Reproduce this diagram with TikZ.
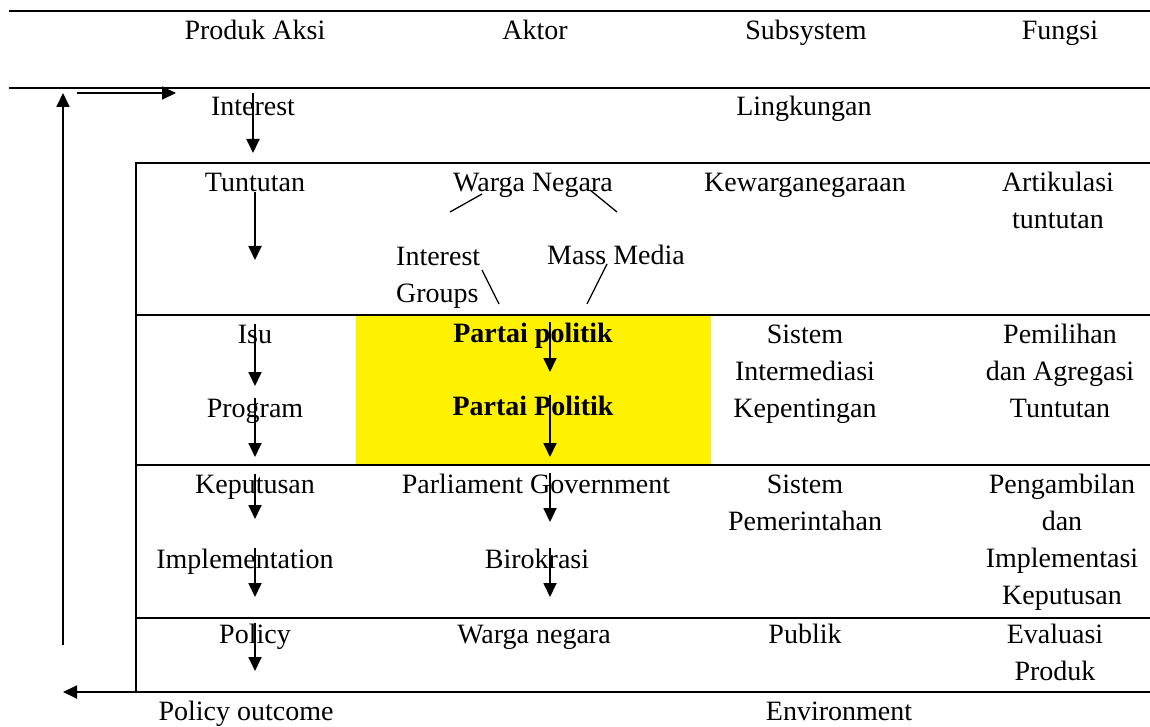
\documentclass[tikz,border=0pt]{standalone}
\usepackage{fontspec}
\setmainfont{Liberation Serif}
\usetikzlibrary{arrows.meta}
\tikzset{
  txt/.style={font=\fontsize{28}{37}\selectfont,inner sep=0pt,anchor=base,align=center},
  rule/.style={line width=2.6pt},
  flow/.style={line width=1.8pt,-{Triangle[length=14pt,width=13pt]}},
  tie/.style={line width=1.3pt}
}
\begin{document}
\begin{tikzpicture}[x=1pt,y=-1pt]
\useasboundingbox (0,0) rectangle (1150,727);
\fill[yellow] (356,316) rectangle (711,464);
% column heads
\node[txt] (prod) at (255,40) {Produk Aksi};
\node[txt] (aktor) at (535,40) {Aktor};
\node[txt] (sub) at (806,40) {Subsystem};
\node[txt] (fungsi) at (1060,40) {Fungsi};
% environment row (multi-line nodes sit on their last line)
\node[txt] (interest) at (253,116) {Interest};
\node[txt] (lingk) at (804,116) {Lingkungan};
% row 1
\node[txt] (tuntutan) at (255,192) {Tuntutan};
\node[txt] (warga) at (533,192) {Warga Negara};
\node[txt,anchor=base west,align=left] (igroups) at (396,302) {Interest\\Groups};
\node[txt] (media) at (616,265) {Mass Media};
\node[txt] (kewarga) at (805,192) {Kewarganegaraan};
\node[txt] (artik) at (1058,229) {Artikulasi\\tuntutan};
% row 2
\node[txt] (isu) at (255,343) {Isu};
\node[txt] (program) at (255,417) {Program};
\node[txt,font=\fontsize{28}{37}\selectfont\bfseries] (partai1) at (533,342) {Partai politik};
\node[txt,font=\fontsize{28}{37}\selectfont\bfseries] (partai2) at (533,415) {Partai Politik};
\node[txt] (sisint) at (805,417) {Sistem\\Intermediasi\\Kepentingan};
\node[txt] (pemilihan) at (1060,417) {Pemilihan\\dan Agregasi\\Tuntutan};
% row 3
\node[txt] (keputusan) at (255,493) {Keputusan};
\node[txt] (impl) at (245,568) {Implementation};
\node[txt] (parlgov) at (536,493) {Parliament Government};
\node[txt] (birok) at (537,568) {Birokrasi};
\node[txt] (sispem) at (805,530) {Sistem\\Pemerintahan};
\node[txt] (pengamb) at (1062,604) {Pengambilan\\dan\\Implementasi\\Keputusan};
% row 4
\node[txt] (policy) at (255,643) {Policy};
\node[txt] (wargan) at (534,643) {Warga negara};
\node[txt] (publik) at (805,643) {Publik};
\node[txt] (evaluasi) at (1055,680) {Evaluasi\\Produk};
% below
\node[txt] (outcome) at (246,720) {Policy outcome};
\node[txt] (env) at (839,720) {Environment};
% frame
\coordinate (tl) at (9,11);
\coordinate (ml) at (9,88);
\coordinate (bx) at (136,163);
\coordinate (bb) at (136,692);
\draw[rule] (tl) -- ++(1141,0);
\draw[rule] (ml) -- ++(1141,0);
\draw[rule] (bb) -- (bx) -- ++(1014,0);
\draw[rule] (136,315) -- ++(1014,0);
\draw[rule] (136,465) -- ++(1014,0);
\draw[rule] (136,618) -- ++(1014,0);
\draw[rule] (bb) -- ++(1014,0);
% feedback loop
\coordinate (loopa) at (148,692);
\coordinate (loopb) at (63,692);
\coordinate (loopc) at (63,645);
\coordinate (loopd) at (63,93);
\coordinate (loope) at (77,93);
\coordinate (loopf) at (176,93);
\draw[flow] (loopa) -- (loopb);
\draw[flow] (loopc) -- (loopd);
\draw[flow] (loope) -- (loopf);
% flows
\coordinate (e1) at (253,153);
\coordinate (e2) at (255,260);
\coordinate (e3) at (255,386);
\coordinate (e4) at (255,457);
\coordinate (e5) at (550,372);
\coordinate (e6) at (550,457);
\coordinate (e7) at (255,519);
\coordinate (e8) at (550,522);
\coordinate (e9) at (255,597);
\coordinate (e10) at (550,597);
\coordinate (e11) at (255,671);
\draw[flow] (interest.north -| e1) ++(0,-4) -- (e1);
\draw[flow] (tuntutan.base) -- (e2);
\draw[flow] (isu.north) -- (e3);
\draw[flow] (program.north -| e4) -- (e4);
\draw[flow] (partai1.north -| e5) -- (e5);
\draw[flow] (partai2.north -| e6) -- (e6);
\draw[flow] (keputusan.north) -- (e7);
\draw[flow] (parlgov.north -| e8) -- (e8);
\draw[flow] (impl.north -| e9) -- (e9);
\draw[flow] (birok.north -| e10) -- (e10);
\draw[flow] (policy.north) -- (e11);
% ties between actors
\draw[tie] (482,194) -- (450,212);
\draw[tie] (590,190) -- (617,212);
\draw[tie] (482,270) -- (499,304);
\draw[tie] (607,264) -- (587,304);
\end{tikzpicture}
\end{document}
